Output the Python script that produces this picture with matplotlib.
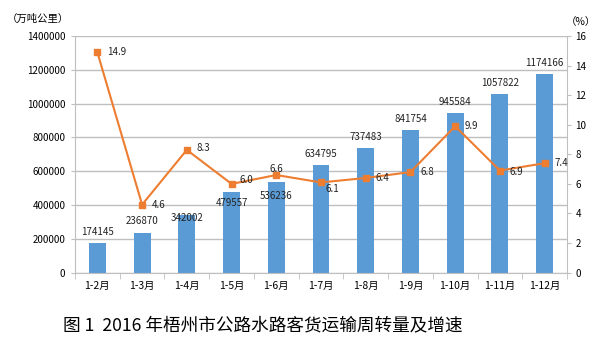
import matplotlib
matplotlib.use('Agg')
import matplotlib.pyplot as plt
from matplotlib.ticker import FuncFormatter
import numpy as np

plt.rcParams['font.family'] = ['Noto Sans CJK SC', 'DejaVu Sans']

months = ['1-2月', '1-3月', '1-4月', '1-5月', '1-6月', '1-7月',
          '1-8月', '1-9月', '1-10月', '1-11月', '1-12月']
turnover = [174145, 236870, 342002, 479557, 536236, 634795,
            737483, 841754, 945584, 1057822, 1174166]
growth = [14.9, 4.6, 8.3, 6.0, 6.6, 6.1, 6.4, 6.8, 9.9, 6.9, 7.4]

# label offsets in points (manual placement like the original)
bar_dy = [8, 8, -2, -8, -10, 8, 8, 8, 8, 8, 8]
line_off = [(7, 0), (7, 0), (7, 1), (6, 3), (0, 4), (3, -5),
            (7, 0), (7, 0), (7, 0), (7, -1), (7, 0)]

bar_c = '#5B9BD5'
line_c = '#ED7D31'
grid_c = '#BFBFBF'

fig = plt.figure(figsize=(6, 3.46), dpi=100)
ax = fig.add_axes([0.125, 0.212, 0.82, 0.684])
x = np.arange(len(months))

ax.bar(x, turnover, width=0.38, color=bar_c, zorder=2)
ax.set_ylim(0, 1400000)
ax.set_yticks(np.arange(0, 1400001, 200000))
ax.yaxis.set_major_formatter(FuncFormatter(lambda v, p: f'{int(v)}'))
ax.set_xlim(-0.5, len(months) - 0.5)
ax.set_xticks(x)
ax.set_xticklabels(months, fontsize=7.5)
ax.set_xticks(np.arange(-0.5, len(months), 1), minor=True)
ax.tick_params(axis='x', which='major', length=0, pad=6)
ax.tick_params(axis='x', which='minor', length=4, color=grid_c)
ax.tick_params(axis='y', length=3, color=grid_c, labelsize=7, pad=4)
ax.grid(axis='y', color=grid_c, linewidth=1, zorder=0)
ax.set_axisbelow(True)
for s in ['top', 'right']:
    ax.spines[s].set_visible(False)
for s in ['left', 'bottom']:
    ax.spines[s].set_color(grid_c)

for xi, v, dy in zip(x, turnover, bar_dy):
    ax.annotate(str(v), (xi, v), xytext=(0, dy), textcoords='offset points',
                ha='center', va='center', fontsize=7, color='#222222', zorder=5)

ax2 = ax.twinx()
ax2.set_position(ax.get_position())
ax2.plot(x, growth, color=line_c, linewidth=1.5, marker='s', markersize=5,
         zorder=4)
ax2.set_ylim(0, 16)
ax2.set_yticks(np.arange(0, 17, 2))
ax2.tick_params(axis='y', length=3, color=grid_c, labelsize=7, pad=3)
for s in ['top', 'left', 'bottom']:
    ax2.spines[s].set_visible(False)
ax2.spines['right'].set_color(grid_c)

for xi, v, (dx, dy) in zip(x, growth, line_off):
    ax2.annotate(f'{v:.1f}', (xi, v), xytext=(dx, dy), textcoords='offset points',
                 ha='left' if dx > 1 else 'center', va='center', fontsize=7,
                 color='#222222', zorder=6)

fig.text(0.012, 0.945, '（万吨公里）', fontsize=7.5, ha='left', va='center')
fig.text(0.943, 0.935, '（%）', fontsize=7.5, ha='left', va='center')
fig.text(0.105, 0.06, '图 1  2016 年梧州市公路水路客货运输周转量及增速',
         fontsize=12.7, ha='left', va='center')

fig.savefig('out.png', dpi=100)
